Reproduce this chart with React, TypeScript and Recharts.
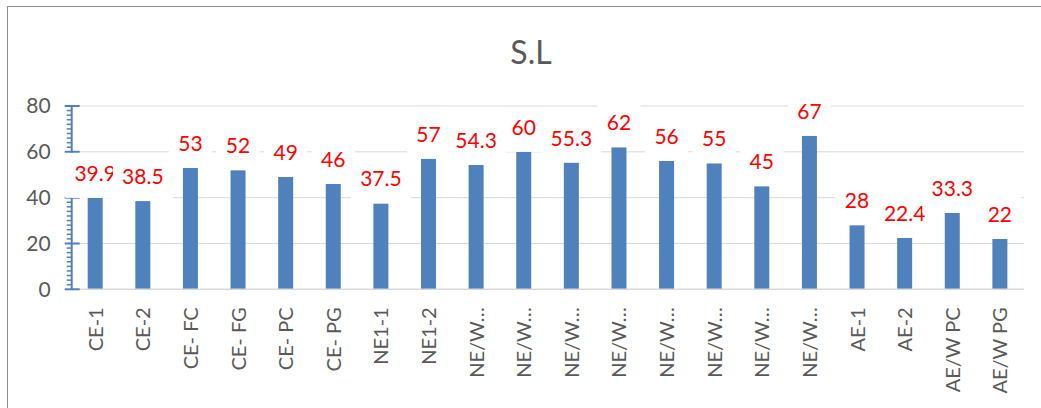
import { BarChart, Bar, XAxis, YAxis, CartesianGrid, LabelList } from 'recharts';

const categories = [
  'CE-1', 'CE-2', 'CE- FC', 'CE- FG', 'CE- PC', 'CE- PG', 'NE1-1', 'NE1-2',
  'NE/W…', 'NE/W…', 'NE/W…', 'NE/W…', 'NE/W…', 'NE/W…', 'NE/W…', 'NE/W…',
  'AE-1', 'AE-2', 'AE/W PC', 'AE/W PG',
];
const slValues = [39.9, 38.5, 53, 52, 49, 46, 37.5, 57, 54.3, 60, 55.3, 62, 56, 55, 45, 67, 28, 22.4, 33.3, 22];
const majorTicks = [0, 20, 40, 60, 80];
const minorTicks = Array.from({ length: 41 }, (_, i) => i * 2);

const data = categories.map((name, i) => ({ name, sl: slValues[i] }));

const FONT = 'Lato, "Open Sans", sans-serif';
const GREY = '#595959';
const BLUE = '#4F81BD';

function textWidth(s: string) {
  let w = 0;
  for (const c of s) w += c === '.' ? 5 : 11.6;
  return w;
}

function YTick(props: any) {
  const { x, y, payload } = props;
  const v = payload.value;
  const major = majorTicks.includes(v);
  return (
    <g>
      {major ? (
        <>
          <line x1={x - 7} x2={x + 8} y1={y} y2={y} stroke={BLUE} strokeWidth={2} />
          <text x={x - 21} y={y} dy="0.35em" textAnchor="end" fill={GREY} fontSize={21} fontFamily={FONT}>
            {v}
          </text>
        </>
      ) : (
        <line x1={x - 5} x2={x} y1={y} y2={y} stroke={BLUE} strokeWidth={1.5} />
      )}
    </g>
  );
}

function XTick(props: any) {
  const { x, y, payload } = props;
  return (
    <g transform={`translate(${x},${y})`}>
      <text transform="rotate(-90)" x={-18} y={0} dy="0.36em" textAnchor="end" fill={GREY} fontSize={20} fontFamily={FONT}>
        {payload.value}
      </text>
    </g>
  );
}

function ValueLabel(props: any) {
  const { x, y, width, value } = props;
  const cx = x + width / 2;
  const s = String(value);
  const w = textWidth(s) + 20;
  return (
    <g>
      <rect x={cx - w / 2} y={y - 45} width={w} height={45} fill="#fff" />
      <text x={cx} y={y - 17} textAnchor="middle" fill="#FF0000" fontSize={21} fontFamily={FONT}>
        {s}
      </text>
    </g>
  );
}

export default function App() {
  return (
    <div style={{ position: 'absolute', left: 0, top: 0, width: 1041, height: 408, overflow: 'hidden', background: '#fff' }}>
      <div
        style={{
          position: 'absolute',
          left: 7,
          top: 6,
          width: 1200,
          height: 600,
          border: '1px solid #8c8c8c',
        }}
      />
      <div
        style={{
          position: 'absolute',
          left: 0,
          width: 1062,
          top: 34,
          textAlign: 'center',
          fontFamily: FONT,
          fontSize: 32,
          color: GREY,
          lineHeight: '36px',
        }}
      >
        S.L
      </div>
      <div style={{ position: 'absolute', left: 0, top: 0 }}>
        <BarChart width={1041} height={408} data={data} margin={{ top: 106, right: 17, bottom: 0, left: 0 }} barSize={15}>
          <CartesianGrid vertical={false} horizontalValues={[20, 40, 60, 80]} stroke="#d9d9d9" />
          <XAxis
            dataKey="name"
            interval={0}
            tick={<XTick />}
            tickLine={false}
            tickSize={0}
            tickMargin={0}
            axisLine={{ stroke: '#d9d9d9', strokeWidth: 1.5 }}
            height={118.7}
          />
          <YAxis
            domain={[0, 80]}
            ticks={minorTicks}
            interval={0}
            width={71.7}
            tick={<YTick />}
            tickLine={false}
            tickSize={0}
            tickMargin={0}
            axisLine={{ stroke: BLUE, strokeWidth: 2 }}
          />
          <Bar dataKey="sl" fill={BLUE} isAnimationActive={false}>
            <LabelList dataKey="sl" content={<ValueLabel />} zIndex={2000} />
          </Bar>
        </BarChart>
      </div>
    </div>
  );
}
